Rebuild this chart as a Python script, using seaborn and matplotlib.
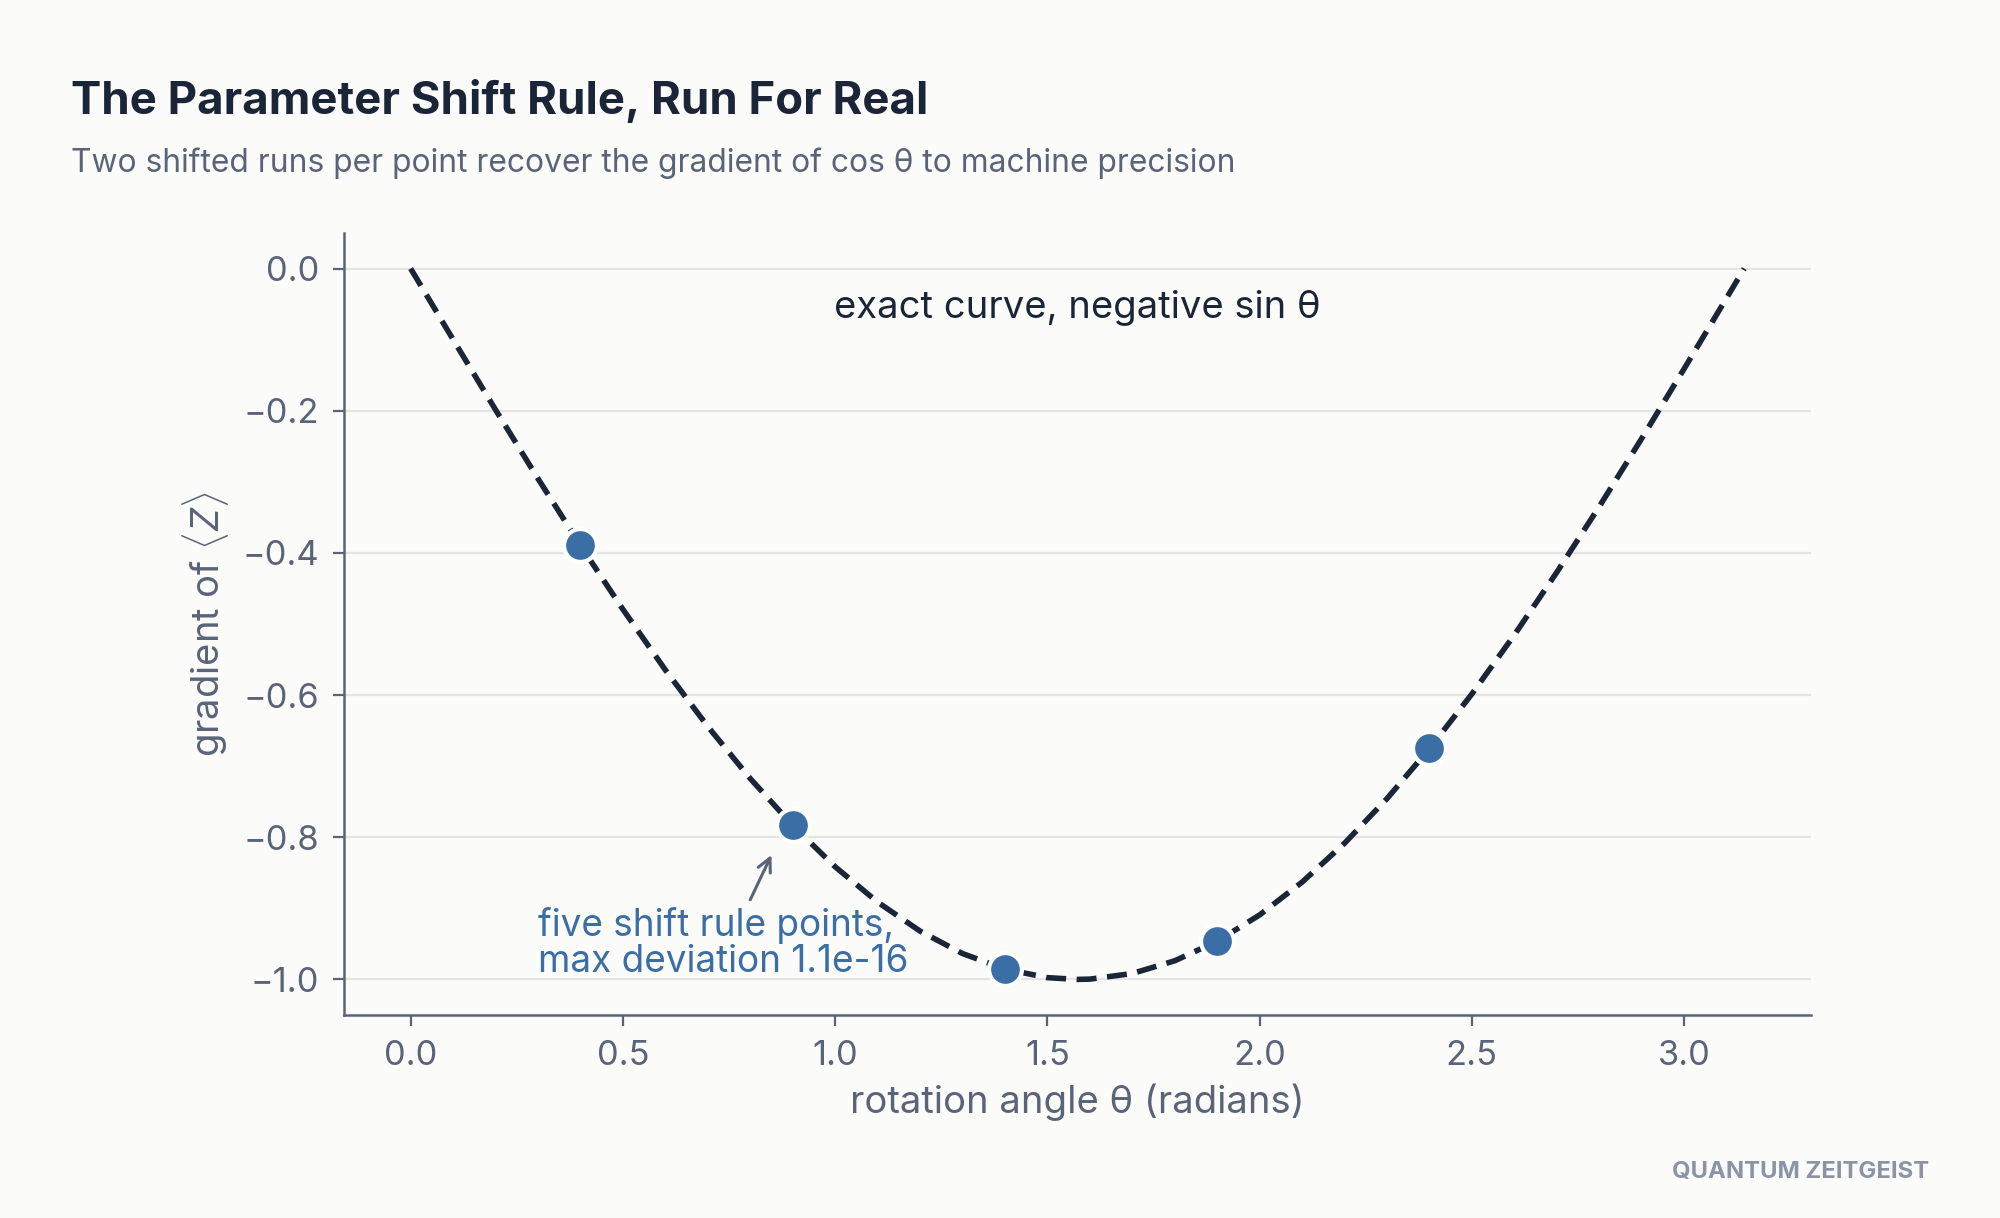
import matplotlib
matplotlib.use("Agg")
import matplotlib.pyplot as plt
import seaborn as sns
import pandas as pd

# ---- data ----
curve_theta = [0.0, 0.1, 0.2, 0.3, 0.4, 0.5, 0.6, 0.7, 0.8, 0.9, 1.0, 1.1, 1.2, 1.3,
               1.4, 1.5, 1.57, 1.6, 1.7, 1.8, 1.9, 2.0, 2.1, 2.2, 2.3, 2.4, 2.5, 2.6,
               2.7, 2.8, 2.9, 3.0, 3.1, 3.1416]
curve_grad = [0.0, -0.0998, -0.1987, -0.2955, -0.3894, -0.4794, -0.5646, -0.6442,
              -0.7174, -0.7833, -0.8415, -0.8912, -0.9320, -0.9636, -0.9854, -0.9975,
              -1.0, -0.9996, -0.9917, -0.9738, -0.9463, -0.9093, -0.8632, -0.8085,
              -0.7457, -0.6755, -0.5985, -0.5155, -0.4274, -0.3350, -0.2392, -0.1411,
              -0.0416, 0.0]
point_theta = [0.4, 0.9, 1.4, 1.9, 2.4]
point_grad = [-0.389, -0.783, -0.985, -0.946, -0.675]

title = "The Parameter Shift Rule, Run For Real"
subtitle = "Two shifted runs per point recover the gradient of cos θ to machine precision"

# ---- style ----
BG = "#fbfbf9"
DARK = "#1b2538"
MUTED = "#5a6478"
BLUE = "#3a6ea5"
GRID = "#e4e4e2"

sns.set_theme(style="white")
plt.rcParams["font.family"] = ["Inter", "DejaVu Sans"]
plt.rcParams["mathtext.fontset"] = "custom"
plt.rcParams["mathtext.rm"] = "Inter"
plt.rcParams["mathtext.it"] = "Inter:italic"
plt.rcParams["axes.unicode_minus"] = True

fig = plt.figure(figsize=(10, 6.09), dpi=200, facecolor=BG)
ax = fig.add_axes([0.172, 0.1667, 0.7335, 0.642])
ax.set_facecolor(BG)

df_curve = pd.DataFrame({"theta": curve_theta, "grad": curve_grad})
df_pts = pd.DataFrame({"theta": point_theta, "grad": point_grad})

sns.lineplot(data=df_curve, x="theta", y="grad", ax=ax, color=DARK,
             linewidth=2.0, linestyle=(0, (3.6, 1.9)), zorder=3)
sns.scatterplot(data=df_pts, x="theta", y="grad", ax=ax, color=BLUE, s=140,
                edgecolor="white", linewidth=1.5, zorder=4)

ax.set_xlim(-0.157, 3.299)
ax.set_ylim(-1.05, 0.05)
ax.set_xticks([0.0, 0.5, 1.0, 1.5, 2.0, 2.5, 3.0])
ax.set_yticks([0.0, -0.2, -0.4, -0.6, -0.8, -1.0])

ax.yaxis.grid(True, color=GRID, linewidth=0.8)
ax.xaxis.grid(False)
ax.set_axisbelow(True)
for s in ["top", "right"]:
    ax.spines[s].set_visible(False)
for s in ["left", "bottom"]:
    ax.spines[s].set_color(MUTED)
    ax.spines[s].set_linewidth(0.9)
ax.tick_params(axis="both", colors=MUTED, labelsize=12.4, length=4, width=0.8,
               pad=5, left=True, bottom=True)

ax.set_xlabel("rotation angle θ (radians)", fontsize=13.75, color=MUTED, labelpad=4)
ax.set_ylabel("gradient of $\\langle Z\\rangle$", fontsize=13.75, color=MUTED, labelpad=4)

ax.text(1.5708, -0.055, "exact curve, negative sin θ", ha="center", va="center",
        fontsize=13.75, color=DARK)
ax.text(0.30, -0.99, "five shift rule points,\nmax deviation 1.1e-16", ha="left",
        va="baseline", fontsize=13.3, color=BLUE, linespacing=1.0)
ax.annotate("", xy=(0.85, -0.825), xytext=(0.80, -0.888),
            arrowprops=dict(arrowstyle="->", color=MUTED, lw=1.1,
                            shrinkA=0, shrinkB=0))

fig.text(0.0355, 0.906, title, fontsize=16.4, fontweight="bold", color=DARK,
         ha="left", va="baseline")
fig.text(0.0355, 0.859, subtitle, fontsize=11.45, color=MUTED, ha="left", va="baseline")
fig.text(0.9645, 0.033, "QUANTUM ZEITGEIST", fontsize=8.6, fontweight="bold",
         color="#8a94a6", ha="right", va="baseline")

fig.savefig("out.png", dpi=200, facecolor=BG)
